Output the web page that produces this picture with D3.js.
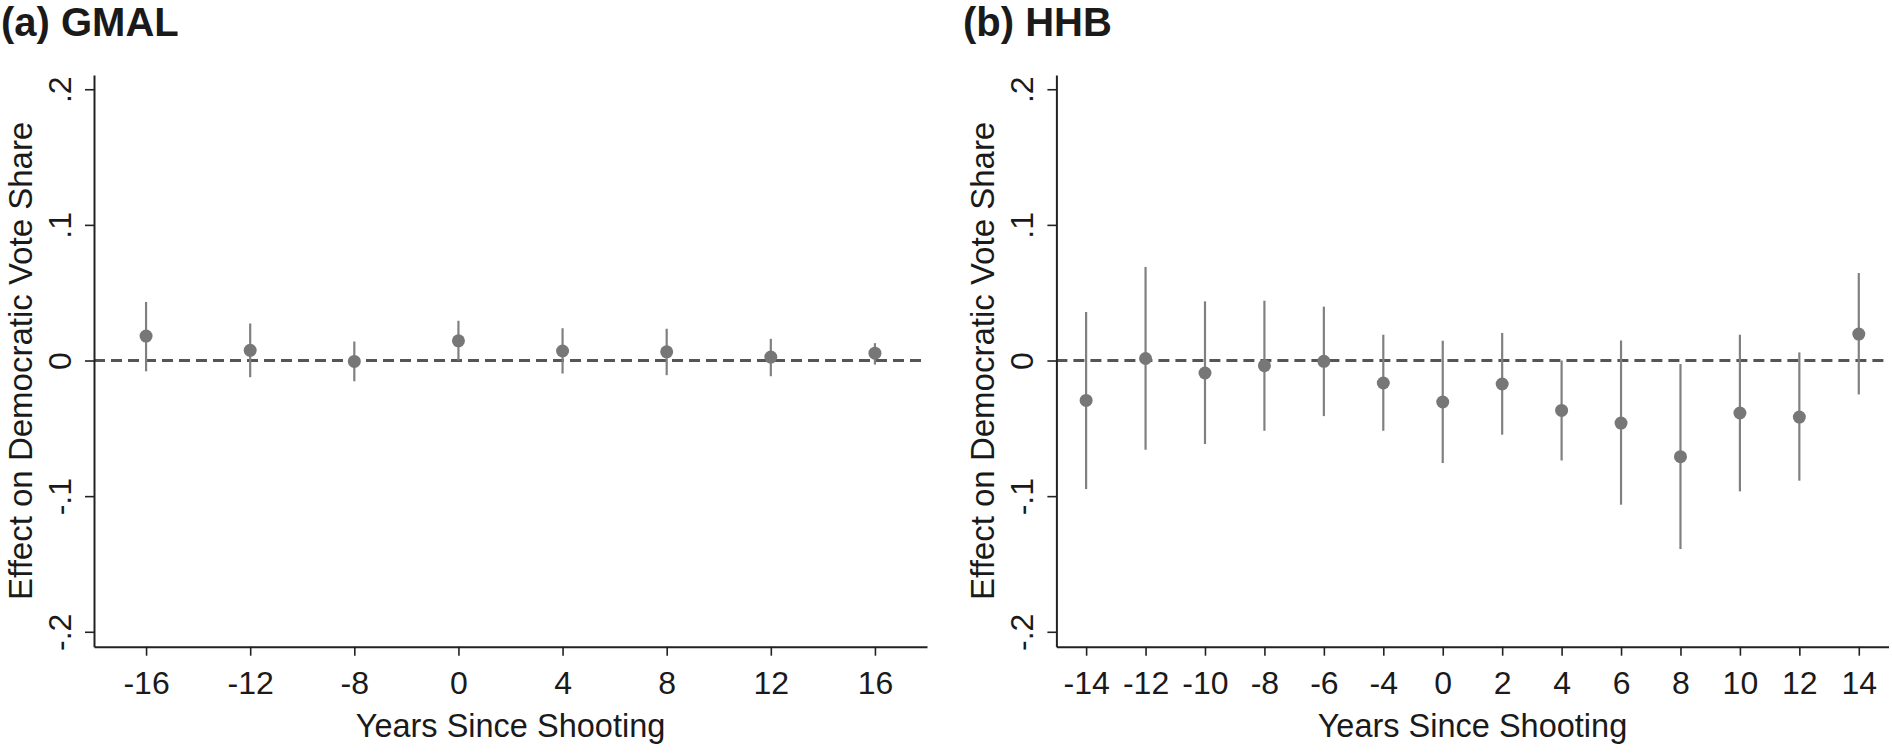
<!DOCTYPE html>
<html>
<head>
<meta charset="utf-8">
<script src="https://cdn.jsdelivr.net/npm/d3@7"></script>
<style>
  html, body { margin: 0; padding: 0; background: #fff; }
  svg { display: block; }
  text { font-family: "Liberation Sans", Arial, Helvetica, sans-serif; fill: #1a1a1a; }
</style>
</head>
<body>
<svg id="chart" width="1892" height="754"></svg>
<script>
// ---- Data ----
const yTickValues = [-0.2, -0.1, 0, 0.1, 0.2];
const yTickLabels = ["-.2", "-.1", "0", ".1", ".2"];

const titleA = "(a) GMAL";
const yearsA = [-16, -12, -8, 0, 4, 8, 12, 16];
const estA = [0.018, 0.0075, -0.0007, 0.0145, 0.007, 0.0064, 0.0025, 0.0054];
const loA  = [-0.008, -0.0123, -0.0153, 0.0, -0.0096, -0.0108, -0.0116, -0.003];
const hiA  = [0.0432, 0.0273, 0.014, 0.0293, 0.0238, 0.0234, 0.016, 0.0128];

const titleB = "(b) HHB";
const yearsB = [-14, -12, -10, -8, -6, -4, 0, 2, 4, 6, 8, 10, 12, 14];
const estB = [-0.0294, 0.0015, -0.0092, -0.0038, -0.0006, -0.0166, -0.0306, -0.0173, -0.0368, -0.0461, -0.0709, -0.0387, -0.0417, 0.0195];
const loB  = [-0.0948, -0.0658, -0.0616, -0.0518, -0.041, -0.0518, -0.0756, -0.0547, -0.0737, -0.1063, -0.139, -0.0965, -0.0886, -0.025];
const hiB  = [0.0358, 0.069, 0.0436, 0.0441, 0.0397, 0.019, 0.0146, 0.0203, 0.0, 0.0148, -0.0026, 0.019, 0.006, 0.0645];

const xTitle = "Years Since Shooting";
const yTitle = "Effect on Democratic Vote Share";

// ---- Layout ----
const svg = d3.select("#chart");
const plotTop = 75, plotBottom = 646.7;
const yDomain = [-0.211, 0.2105];

function panel(opts) {
  const { left, right, title, years, est, lo, hi } = opts;
  const g = svg.append("g");

  const x = d3.scalePoint().domain(years.map(String)).range([left, right]).padding(0.5);
  const y = d3.scaleLinear().domain(yDomain).range([plotBottom, plotTop]);

  // title
  g.append("text")
    .attr("x", opts.titleX).attr("y", 36)
    .attr("font-size", 40).attr("font-weight", "bold")
    .text(title);

  // zero reference line
  g.append("line")
    .attr("x1", left).attr("x2", right)
    .attr("y1", y(0)).attr("y2", y(0))
    .attr("stroke", "#555555").attr("stroke-width", 2.8)
    .attr("stroke-dasharray", "11,6");

  // error bars
  g.selectAll("line.ci").data(years).enter().append("line")
    .attr("class", "ci")
    .attr("x1", (d) => x(String(d))).attr("x2", (d) => x(String(d)))
    .attr("y1", (d, i) => y(lo[i])).attr("y2", (d, i) => y(hi[i]))
    .attr("stroke", "#808080").attr("stroke-width", 2.2);

  // points
  g.selectAll("circle.pt").data(years).enter().append("circle")
    .attr("class", "pt")
    .attr("cx", (d) => x(String(d)))
    .attr("cy", (d, i) => y(est[i]))
    .attr("r", 6.5)
    .attr("fill", "#777777");

  // y axis
  const yAxis = d3.axisLeft(y)
    .tickValues(yTickValues)
    .tickFormat((d, i) => yTickLabels[i])
    .tickSize(9).tickSizeOuter(0).tickPadding(0);
  const ya = g.append("g").attr("transform", `translate(${left},0)`).call(yAxis);
  ya.attr("font-family", null).attr("font-size", null);
  ya.select(".domain").attr("stroke", "#222").attr("stroke-width", 2);
  ya.selectAll(".tick line").attr("stroke", "#222").attr("stroke-width", 1.6);
  ya.selectAll(".tick text")
    .attr("font-size", 32)
    .attr("fill", "#1a1a1a")
    .attr("dy", null)
    .attr("x", null)
    .attr("text-anchor", "middle")
    .attr("transform", "translate(-23,0) rotate(-90)");

  // x axis
  const xAxis = d3.axisBottom(x)
    .tickSize(9).tickSizeOuter(0).tickPadding(0);
  const xa = g.append("g").attr("transform", `translate(0,${plotBottom})`).call(xAxis);
  xa.attr("font-family", null).attr("font-size", null);
  xa.select(".domain").attr("stroke", "#222").attr("stroke-width", 2);
  xa.selectAll(".tick line").attr("stroke", "#222").attr("stroke-width", 1.6);
  xa.selectAll(".tick text")
    .attr("font-size", 32)
    .attr("fill", "#1a1a1a")
    .attr("dy", null)
    .attr("y", 694.3 - plotBottom);

  // axis titles
  g.append("text")
    .attr("x", (left + right) / 2).attr("y", 736.7)
    .attr("text-anchor", "middle").attr("font-size", 32.5)
    .text(xTitle);
  g.append("text")
    .attr("transform", `translate(${left - 62},${(plotTop + plotBottom) / 2}) rotate(-90)`)
    .attr("text-anchor", "middle").attr("font-size", 33)
    .text(yTitle);
}

panel({ left: 94, right: 927, titleX: 1, title: titleA, years: yearsA, est: estA, lo: loA, hi: hiA });
panel({ left: 1056.4, right: 1888.5, titleX: 963, title: titleB, years: yearsB, est: estB, lo: loB, hi: hiB });
</script>
</body>
</html>
